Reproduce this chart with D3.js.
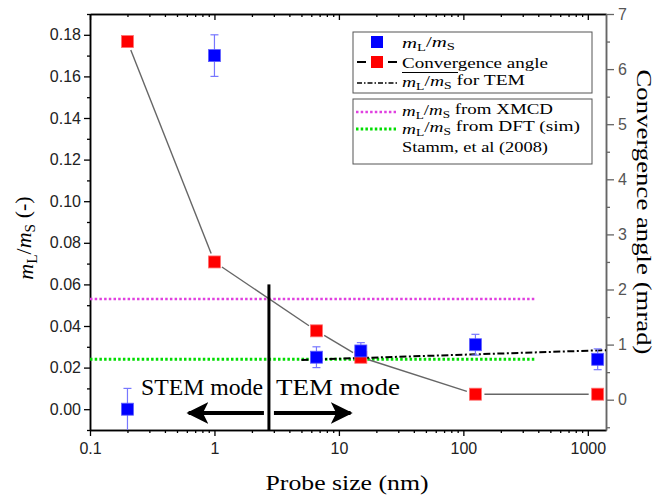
<!DOCTYPE html>
<html>
<head>
<meta charset="utf-8">
<script src="https://d3js.org/d3.v7.min.js"></script>
<style>
  html, body { margin: 0; padding: 0; background: #fff; }
  .tick text { font-family: Arial, "Liberation Sans", sans-serif; font-size: 16px; }
</style>
</head>
<body>
<script>
// data
var probeSize = [0.2, 1, 6.6, 15, 125, 1200];
var ratio     = [0.000, 0.170, 0.025, 0.028, 0.031, 0.024];
var ratioErr  = [0.010, 0.010, 0.005, 0.004, 0.005, 0.005];
var angle     = [6.5, 2.5, 1.25, 0.77, 0.1, 0.1];

var temFitX = [5, 1400];
var temFitY = [0.0237, 0.0284];
var refLineX = [0.1, 380];
var xmcdRatio = 0.053;
var dftRatio = 0.024;
var modeBoundary = 2.74;
var boundaryTop = 0.06;

var xTicks = [0.1, 1, 10, 100, 1000];
var yLeftTicks = [0, 0.02, 0.04, 0.06, 0.08, 0.10, 0.12, 0.14, 0.16, 0.18];
var yRightTicks = [0, 1, 2, 3, 4, 5, 6, 7];

var SERIF = "'Liberation Serif', 'Times New Roman', serif";

var W = 658, H = 495;
var margin = {left: 90, right: 52, top: 14, bottom: 65};
var pw = W - margin.left - margin.right;
var ph = H - margin.top - margin.bottom;

var x = d3.scaleLog().domain([0.1, 1400]).range([0, pw]);
var y = d3.scaleLinear().domain([-0.01, 0.19]).range([ph, 0]);
var y2 = d3.scaleLinear().domain([-0.55, 7]).range([ph, 0]);

var svg = d3.select("body").append("svg").attr("width", W).attr("height", H);
var g = svg.append("g").attr("transform", "translate(" + margin.left + "," + margin.top + ")");

// minor tick values
var xMinor = [];
[0.1, 1, 10, 100, 1000].forEach(function(d) {
  for (var k = 2; k <= 9; k++) if (d * k <= 1400) xMinor.push(d * k);
});
var yMinor = d3.range(-0.01, 0.1901, 0.02).map(function(d){ return +d.toFixed(3); });
var y2Minor = d3.range(-0.5, 7, 1);

function styleAxis(sel, col) {
  sel.select(".domain").attr("stroke", col).attr("stroke-width", 1.5);
  sel.selectAll(".tick line").attr("stroke", col).attr("stroke-width", 1.3);
}

// bottom
g.append("g").attr("transform", "translate(0," + ph + ")")
  .call(d3.axisBottom(x).tickValues(xMinor).tickSize(3).tickFormat("").tickSizeOuter(0))
  .call(styleAxis, "#000");
g.append("g").attr("transform", "translate(0," + ph + ")")
  .call(d3.axisBottom(x).tickValues(xTicks).tickSize(6).tickFormat(d3.format("~g")).tickSizeOuter(0))
  .call(styleAxis, "#000")
  .call(function(s){ s.selectAll(".tick text").attr("fill", "#222").attr("dy", "0.95em"); });
// top
g.append("g").call(d3.axisTop(x).tickValues(xMinor).tickSize(-3).tickFormat("").tickSizeOuter(0)).call(styleAxis, "#000");
g.append("g").call(d3.axisTop(x).tickValues(xTicks).tickSize(-6).tickFormat("").tickSizeOuter(0)).call(styleAxis, "#000");
// left
g.append("g").call(d3.axisLeft(y).tickValues(yMinor).tickSize(3).tickFormat("").tickSizeOuter(0)).call(styleAxis, "#000");
g.append("g").call(d3.axisLeft(y).tickValues(yLeftTicks).tickSize(6).tickFormat(d3.format(".2f")).tickSizeOuter(0))
  .call(styleAxis, "#000")
  .call(function(s){ s.selectAll(".tick text").attr("fill", "#222").attr("x", -9); });
// right
g.append("g").attr("transform", "translate(" + pw + ",0)")
  .call(d3.axisRight(y2).tickValues(y2Minor).tickSize(4).tickFormat("").tickSizeOuter(0)).call(styleAxis, "#666");
g.append("g").attr("transform", "translate(" + pw + ",0)")
  .call(d3.axisRight(y2).tickValues(yRightTicks).tickSize(8).tickFormat(d3.format("d")).tickSizeOuter(0))
  .call(styleAxis, "#666")
  .call(function(s){ s.selectAll(".tick text").attr("fill", "#555").attr("x", 12); });

// reference lines
g.append("line").attr("x1", x(refLineX[0])).attr("x2", x(refLineX[1]))
  .attr("y1", y(xmcdRatio)).attr("y2", y(xmcdRatio))
  .attr("stroke", "#e040e0").attr("stroke-width", 2.5).attr("stroke-dasharray", "2.5,2.2");
g.append("line").attr("x1", x(refLineX[0])).attr("x2", x(refLineX[1]))
  .attr("y1", y(dftRatio)).attr("y2", y(dftRatio))
  .attr("stroke", "#00dd00").attr("stroke-width", 3).attr("stroke-dasharray", "2.5,2.2");

// TEM dash-dot line
g.append("path")
  .attr("d", d3.line().x(function(d){ return x(d[0]); }).y(function(d){ return y(d[1]); })(d3.zip(temFitX, temFitY)))
  .attr("fill", "none").attr("stroke", "#000").attr("stroke-width", 2).attr("stroke-dasharray", "7,2.5,2,2.5");

// convergence angle connecting line, with gaps around symbols
var gap = 9;
for (var i = 0; i < probeSize.length - 1; i++) {
  var ax = x(probeSize[i]), ay = y2(angle[i]);
  var bx = x(probeSize[i + 1]), by = y2(angle[i + 1]);
  var len = Math.hypot(bx - ax, by - ay);
  var ux = (bx - ax) / len, uy = (by - ay) / len;
  g.append("line")
    .attr("x1", ax + ux * gap).attr("y1", ay + uy * gap)
    .attr("x2", bx - ux * gap).attr("y2", by - uy * gap)
    .attr("stroke", "#666").attr("stroke-width", 1.4);
}

// mode boundary and arrows
g.append("line").attr("x1", x(modeBoundary)).attr("x2", x(modeBoundary))
  .attr("y1", y(boundaryTop)).attr("y2", ph)
  .attr("stroke", "#000").attr("stroke-width", 3);

svg.append("defs").append("marker").attr("id", "ah")
  .attr("viewBox", "0 0 10 10").attr("refX", 9).attr("refY", 5)
  .attr("markerWidth", 5.5).attr("markerHeight", 5.5).attr("orient", "auto-start-reverse")
  .append("path").attr("d", "M0,0 L10,5 L0,10 L2.5,5 Z").attr("fill", "#000");

var arrowY = 399;
g.append("line").attr("x1", x(modeBoundary) - 5).attr("x2", x(0.62))
  .attr("y1", arrowY).attr("y2", arrowY).attr("stroke", "#000").attr("stroke-width", 4)
  .attr("marker-end", "url(#ah)");
g.append("line").attr("x1", x(modeBoundary) + 5).attr("x2", x(12.4))
  .attr("y1", arrowY).attr("y2", arrowY).attr("stroke", "#000").attr("stroke-width", 4)
  .attr("marker-end", "url(#ah)");

g.append("text").attr("font-family", SERIF).attr("x", x(modeBoundary) - 6).attr("y", 381)
  .attr("text-anchor", "end").attr("font-size", 24).attr("textLength", 122)
  .attr("lengthAdjust", "spacingAndGlyphs").text("STEM mode");
g.append("text").attr("font-family", SERIF).attr("x", x(modeBoundary) + 7).attr("y", 381)
  .attr("font-size", 24).attr("textLength", 124)
  .attr("lengthAdjust", "spacingAndGlyphs").text("TEM mode");

// error bars
var err = g.append("g").attr("stroke", "#7777ff").attr("stroke-width", 1.2);
probeSize.forEach(function(p, i) {
  var cx = x(p);
  var top = y(ratio[i] + ratioErr[i]), bot = Math.min(ph, y(ratio[i] - ratioErr[i]));
  err.append("line").attr("x1", cx).attr("x2", cx).attr("y1", top).attr("y2", bot);
  err.append("line").attr("x1", cx - 4).attr("x2", cx + 4).attr("y1", top).attr("y2", top);
  if (y(ratio[i] - ratioErr[i]) < ph)
    err.append("line").attr("x1", cx - 4).attr("x2", cx + 4).attr("y1", bot).attr("y2", bot);
});

// symbols
var s = 12;
g.selectAll("rect.red").data(probeSize).enter().append("rect")
  .attr("x", function(d){ return x(d) - s / 2; })
  .attr("y", function(d, i){ return y2(angle[i]) - s / 2; })
  .attr("width", s).attr("height", s)
  .attr("fill", "#ff0000").attr("stroke", "#ff7070").attr("stroke-width", 0.8);
g.selectAll("rect.blue").data(probeSize).enter().append("rect")
  .attr("x", function(d){ return x(d) - s / 2; })
  .attr("y", function(d, i){ return y(ratio[i]) - s / 2; })
  .attr("width", s).attr("height", s)
  .attr("fill", "#0000ff").attr("stroke", "#6060ff").attr("stroke-width", 0.8);

// math: m_L/m_S followed by optional suffix
function mlms(t, suffix) {
  t.append("tspan").attr("font-style", "italic").text("m");
  t.append("tspan").attr("font-size", "70%").attr("dy", "0.25em").text("L");
  t.append("tspan").attr("dy", "-0.25em").text("/");
  t.append("tspan").attr("font-style", "italic").text("m");
  t.append("tspan").attr("font-size", "70%").attr("dy", "0.25em").text("S");
  if (suffix) t.append("tspan").attr("dy", "-0.25em").text(suffix);
}
function fit(t, w) { return t.attr("textLength", w).attr("lengthAdjust", "spacingAndGlyphs"); }

// legend boxes
var lg = svg.append("g").attr("font-family", SERIF).attr("font-size", 15.5);
lg.append("rect").attr("x", 353).attr("y", 32).attr("width", 239).attr("height", 61)
  .attr("fill", "#fff").attr("stroke", "#555").attr("stroke-width", 1);
lg.append("rect").attr("x", 353).attr("y", 99).attr("width", 239).attr("height", 65)
  .attr("fill", "#fff").attr("stroke", "#555").attr("stroke-width", 1);

lg.append("rect").attr("x", 371).attr("y", 36).attr("width", 12).attr("height", 12).attr("fill", "#0000ff");
var r1 = lg.append("text").attr("x", 402).attr("y", 48); mlms(r1); fit(r1, 53);

lg.append("line").attr("x1", 357).attr("x2", 366).attr("y1", 62).attr("y2", 62).attr("stroke", "#000").attr("stroke-width", 2);
lg.append("line").attr("x1", 388).attr("x2", 397).attr("y1", 62).attr("y2", 62).attr("stroke", "#000").attr("stroke-width", 2);
lg.append("rect").attr("x", 371).attr("y", 56).attr("width", 12).attr("height", 12).attr("fill", "#ff0000");
fit(lg.append("text").attr("x", 402).attr("y", 67.5).text("Convergence angle"), 146);
lg.append("line").attr("x1", 402).attr("x2", 458).attr("y1", 72.5).attr("y2", 72.5).attr("stroke", "#000").attr("stroke-width", 1);

lg.append("line").attr("x1", 357).attr("x2", 397).attr("y1", 83).attr("y2", 83)
  .attr("stroke", "#000").attr("stroke-width", 1.5).attr("stroke-dasharray", "5,2,1.5,2");
var r3 = lg.append("text").attr("x", 402).attr("y", 87); mlms(r3, " for TEM"); fit(r3, 123);

lg.append("line").attr("x1", 356).attr("x2", 396).attr("y1", 112).attr("y2", 112)
  .attr("stroke", "#e040e0").attr("stroke-width", 2.5).attr("stroke-dasharray", "2.5,2.2");
var r4 = lg.append("text").attr("x", 402).attr("y", 116); mlms(r4, " from XMCD"); fit(r4, 151);
lg.append("line").attr("x1", 356).attr("x2", 396).attr("y1", 129).attr("y2", 129)
  .attr("stroke", "#00dd00").attr("stroke-width", 3).attr("stroke-dasharray", "2.5,2.2");
var r5 = lg.append("text").attr("x", 402).attr("y", 133.5); mlms(r5, " from DFT (sim)"); fit(r5, 178);
fit(lg.append("text").attr("x", 402).attr("y", 152).text("Stamm, et al (2008)"), 146);

// axis titles
var yt = svg.append("text").attr("font-family", SERIF).attr("font-size", 22)
  .attr("transform", "translate(33,238) rotate(-90)").attr("text-anchor", "middle");
mlms(yt, " (-)");

svg.append("text").attr("font-family", SERIF).attr("font-size", 22)
  .attr("transform", "translate(637,212) rotate(90)").attr("text-anchor", "middle")
  .attr("textLength", 285).attr("lengthAdjust", "spacingAndGlyphs")
  .text("Convergence angle (mrad)");

svg.append("text").attr("font-family", SERIF).attr("font-size", 22)
  .attr("x", 347).attr("y", 490).attr("text-anchor", "middle")
  .attr("textLength", 163).attr("lengthAdjust", "spacingAndGlyphs")
  .text("Probe size (nm)");
</script>
</body>
</html>
